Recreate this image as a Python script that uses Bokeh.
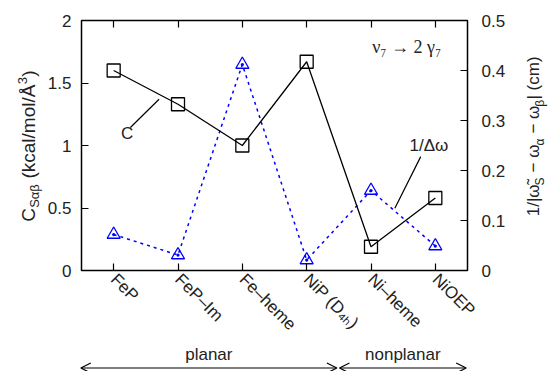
import math
from bokeh.plotting import figure
from bokeh.layouts import row, column
from bokeh.models import Range1d, LinearAxis, FixedTicker, Label, Arrow, OpenHead
from bokeh.embed import file_html
from bokeh.resources import INLINE

# ---------------- data ----------------
categories = ["FeP", "FeP–Im", "Fe–heme", "NiP (D₄ₕ)", "Ni–heme", "NiOEP"]
c_values = [1.60, 1.33, 1.00, 1.67, 0.19, 0.58]
inv_dw_values = [0.072, 0.031, 0.412, 0.021, 0.160, 0.049]
left_ticks = [0, 0.5, 1, 1.5, 2]
left_tick_labels = ["0", "0.5", "1", "1.5", "2"]
right_ticks = [0, 0.1, 0.2, 0.3, 0.4, 0.5]
right_tick_labels = ["0", "0.1", "0.2", "0.3", "0.4", "0.5"]
groups = ["planar", "nonplanar"]
group_sizes = [4, 2]

x = list(range(1, len(categories) + 1))

FONT = "Liberation Sans"
TXT = "#222222"
NB = "\u00a0"

# layout geometry (pixels)
LEFT_W, MAIN_W, RIGHT_W = 44, 468, 39
MAIN_H, BOTTOM_H = 343, 28
TOP_B, BOT_B = 20, 66
FRAME_L, FRAME_R = 35, 45

x_range = Range1d(0.5, len(categories) + 0.5)
y_range = Range1d(0, 2)

p = figure(width=MAIN_W, height=MAIN_H, output_backend="svg", toolbar_location=None,
           x_range=x_range, y_range=y_range,
           min_border_left=FRAME_L, min_border_right=FRAME_R, min_border_top=TOP_B,
           min_border_bottom=BOT_B)
p.extra_y_ranges = {"right": Range1d(0, 0.5)}
p.xgrid.visible = False
p.ygrid.visible = False
p.outline_line_color = "black"
p.outline_line_width = 1.5


def style_axis(ax, standoff):
    ax.axis_line_color = None
    ax.major_tick_in = 7
    ax.major_tick_out = 0
    ax.major_tick_line_color = "black"
    ax.major_tick_line_width = 1.2
    ax.minor_tick_line_color = None
    ax.major_label_text_font = FONT
    ax.major_label_text_font_size = "17px"
    ax.major_label_text_color = TXT
    ax.major_label_standoff = standoff


# bottom axis
xa = p.xaxis[0]
xa.ticker = FixedTicker(ticks=x)
xa.major_label_overrides = {i: c for i, c in zip(x, categories)}
xa.major_label_orientation = -math.pi / 4
style_axis(xa, 6)

# top mirror ticks
top = LinearAxis(ticker=FixedTicker(ticks=x))
style_axis(top, 0)
top.major_label_text_font_size = "0px"
top.major_label_text_color = None
p.add_layout(top, "above")

# left axis
ya = p.yaxis[0]
ya.ticker = FixedTicker(ticks=left_ticks)
ya.major_label_overrides = {t: s for t, s in zip(left_ticks, left_tick_labels)}
style_axis(ya, 10)

# right axis
ra = LinearAxis(y_range_name="right", ticker=FixedTicker(ticks=right_ticks))
ra.major_label_overrides = {t: s for t, s in zip(right_ticks, right_tick_labels)}
style_axis(ra, 14)
p.add_layout(ra, "right")

# ---------------- series ----------------
p.line(x, inv_dw_values, y_range_name="right", line_color="#0000ff",
       line_width=1.5, line_dash="3 4")
p.scatter(x, inv_dw_values, y_range_name="right", marker="triangle_dot", size=13,
          line_color="#0000ff", line_width=1.3, fill_color=None)

p.line(x, c_values, line_color="black", line_width=1.3)
p.scatter(x, c_values, marker="square", size=13, line_color="black",
          line_width=1.3, fill_color=None)

# ---------------- in-frame annotations ----------------
p.add_layout(Label(x=1.21, y=1.10, text="C", text_font=FONT, text_font_size="17px",
                   text_color=TXT, text_align="center", text_baseline="middle"))
p.add_layout(Arrow(x_start=1.26, y_start=1.144, x_end=1.706, y_end=1.37, end=None,
                   line_width=1.2, line_color="black"))
p.add_layout(Label(x=5.90, y=1.0, text="1/Δω", text_font=FONT, text_font_size="17px",
                   text_color=TXT, text_align="center", text_baseline="middle"))
p.add_layout(Arrow(x_start=5.773, y_start=0.911, x_end=5.371, y_end=0.498, end=None,
                   line_width=1.2, line_color="black"))
p.add_layout(Label(x=5.556, y=1.79, text="ν₇ → 2 γ₇", text_font="Liberation Serif",
                   text_font_size="18px", text_color=TXT, text_align="center",
                   text_baseline="middle"))


def blank_fig(w, h, xr, yr, bt=0, bb=0, bl=0, br=0):
    f = figure(width=w, height=h, output_backend="svg", toolbar_location=None,
               x_range=xr, y_range=yr, x_axis_location=None, y_axis_location=None,
               min_border_left=bl, min_border_right=br, min_border_top=bt,
               min_border_bottom=bb)
    f.xgrid.visible = False
    f.ygrid.visible = False
    f.outline_line_color = None
    return f


# ---------------- rotated axis titles with sub/superscripts ----------------
W = {' ': 0.278, NB: 0.278, '(': 0.333, ')': 0.333, '/': 0.278, '|': 0.26, '−': 0.584,
     '1': 0.556, '3': 0.556, 'C': 0.722, 'S': 0.667, 'a': 0.556, 'c': 0.5,
     'k': 0.5, 'l': 0.222, 'm': 0.833, 'o': 0.556, 'Å': 0.667, 'α': 0.58,
     'β': 0.575, 'ω': 0.70, '\u0303': 0.0}


def rotated_title(fig, pieces, x_center, y_center, base):
    # text rotated 90 deg: "down" in the text frame is +x on screen
    small = round(base * 0.7)
    sizes = {"n": base, "sub": small, "sup": small}
    shift = {"n": 0, "sub": round(0.33 * base), "sup": -round(0.30 * base)}
    pieces = [(t.replace(" ", NB), k) for t, k in pieces]
    widths = [sum(W.get(ch, 0.55) for ch in t) * sizes[k] for t, k in pieces]
    off = -sum(widths) / 2
    for (t, k), w in zip(pieces, widths):
        fig.add_layout(Label(x=x_center, y=y_center, x_offset=shift[k], y_offset=off,
                             text=t, angle=math.pi / 2, text_align="left",
                             text_baseline="middle", text_font=FONT,
                             text_font_size=f"{sizes[k]}px", text_color=TXT))
        off += w + 0.3


left_fig = blank_fig(LEFT_W, MAIN_H, Range1d(0, LEFT_W), Range1d(0, 2), bt=TOP_B, bb=BOT_B)
rotated_title(left_fig, [("C", "n"), ("Sαβ", "sub"), (" (kcal/mol/Å", "n"),
                         ("3", "sup"), (")", "n")], 28, 0.99, 19)

right_fig = blank_fig(RIGHT_W, MAIN_H, Range1d(0, RIGHT_W), Range1d(0, 2), bt=TOP_B, bb=BOT_B)
rotated_title(right_fig, [("1/|ω\u0303", "n"), ("S", "sub"), (" − ω", "n"), ("α", "sub"),
                          (" − ω", "n"), ("β", "sub"), ("| (cm)", "n")], 21, 1.066, 17)

# ---------------- group arrows and labels below the axis ----------------
bottom_fig = blank_fig(LEFT_W + MAIN_W + RIGHT_W, BOTTOM_H, x_range, Range1d(BOTTOM_H, 0),
                       bl=LEFT_W + FRAME_L, br=RIGHT_W + FRAME_R)
start = 0.5
for name, n in zip(groups, group_sizes):
    end = start + n
    bottom_fig.add_layout(Arrow(x_start=start + 0.02, y_start=24.5, x_end=end - 0.02,
                                y_end=24.5,
                                start=OpenHead(size=10, line_width=1.2, line_color="black"),
                                end=OpenHead(size=10, line_width=1.2, line_color="black"),
                                line_width=1.2, line_color="black"))
    bottom_fig.add_layout(Label(x=(start + end) / 2, y=11, text=name, text_font=FONT,
                                text_font_size="17px", text_color=TXT, text_align="center",
                                text_baseline="middle"))
    start = end

layout = column(row(left_fig, p, right_fig, spacing=0), bottom_fig, spacing=0)

open("out.html", "w").write(file_html(layout, INLINE))
